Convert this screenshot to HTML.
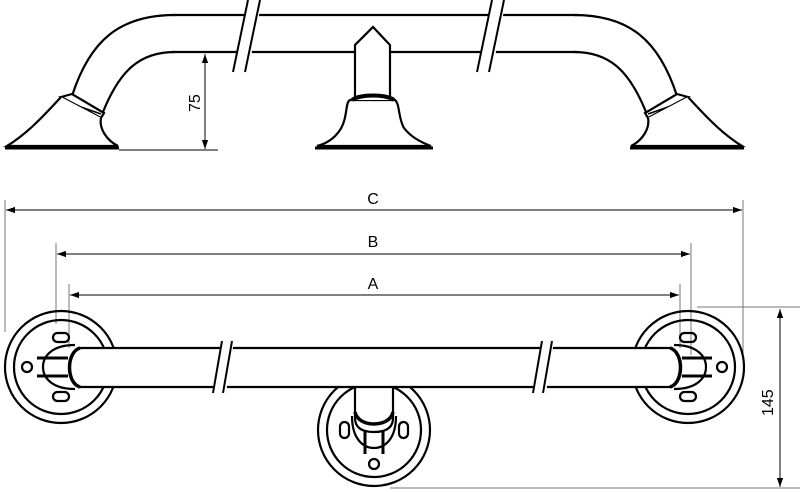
<!DOCTYPE html>
<html><head><meta charset="utf-8"><style>html,body{margin:0;padding:0;background:#fff}svg{display:block}</style></head>
<body>
<svg width="800" height="492" viewBox="0 0 800 492" xmlns="http://www.w3.org/2000/svg" font-family="Liberation Sans, sans-serif">
<defs>
<marker id="ar" viewBox="0 0 10 10" refX="10" refY="5" markerWidth="9" markerHeight="9" orient="auto-start-reverse" markerUnits="userSpaceOnUse"><path d="M0,1.5 L10,5 L0,8.5z" fill="#000"/></marker>
<g id="endTop" fill="none" stroke="#000" stroke-width="2.2">
  <path d="M175,15 C120,15 90,40 72,96" />
  <path d="M175,52 C140,52 120,70 103,112" />
  <path d="M61,97 L72,94 L104,113 L101,118 Z" fill="#fff"/>
  <line x1="64" y1="101" x2="101" y2="114" stroke-width="1.5"/>
  <path d="M61,97 C40,120 25,135 7,146 L118,146 C106,140 99,128 101,118" fill="#fff"/>
  <line x1="5" y1="148" x2="119" y2="148" stroke-width="3"/>
</g>
<g id="rosette" fill="none" stroke="#000" stroke-width="2.2">
  <circle cx="0" cy="0" r="56"/>
  <circle cx="0" cy="0" r="47"/>
  <rect x="-8" y="-34" width="16" height="9" rx="4.5"/>
  <rect x="-8" y="25" width="16" height="9" rx="4.5"/>
  <circle cx="-34" cy="0" r="5"/>
  <path d="M14,-22 C-10,-22 -18,-10 -18,0 C-18,10 -10,22 14,22"/>
  <path d="M-24,-9 L14,-9 M-24,9 L14,9" stroke-width="3"/>
</g>
</defs>

<g fill="none" stroke="#000" stroke-width="2.2">
  <line x1="172" y1="15" x2="578" y2="15"/>
  <line x1="172" y1="52" x2="578" y2="52"/>
</g>
<use href="#endTop"/>
<use href="#endTop" transform="translate(749,0) scale(-1,1)"/>
<polygon points="234,72 248,72 262,0 248,0" fill="#fff"/>
<line x1="233" y1="72" x2="248" y2="0" stroke="#000" stroke-width="2"/>
<line x1="245" y1="72" x2="260" y2="0" stroke="#000" stroke-width="2"/>
<polygon points="478,72 492,72 506,0 492,0" fill="#fff"/>
<line x1="477" y1="72" x2="492" y2="0" stroke="#000" stroke-width="2"/>
<line x1="489" y1="72" x2="504" y2="0" stroke="#000" stroke-width="2"/>
<g fill="#fff" stroke="#000" stroke-width="2.2">
  <path d="M355,97 L355,45 L373,27 L390,45 L390,97 Z"/>
  <path d="M350,100 C345,102 348,118 340,130 C334,139 325,144 317,146 L431,146 C420,142 410,136 404,128 C398,118 400,104 395,100 Z"/>
  <path d="M352,100 C360,94 386,94 394,100" stroke-width="4"/>
  <line x1="315" y1="148" x2="433" y2="148" stroke-width="3"/>
</g>
<line x1="119" y1="150" x2="218" y2="150" stroke="#000" stroke-width="1"/>
<line x1="205" y1="54" x2="205" y2="149" stroke="#000" stroke-width="1" marker-start="url(#ar)" marker-end="url(#ar)"/>
<text x="0" y="0" font-size="16" transform="translate(200,112) rotate(-90)">75</text>

<g stroke="#777" stroke-width="1">
  <line x1="5" y1="200" x2="5" y2="332"/>
  <line x1="743" y1="200" x2="743" y2="355"/>
  <line x1="56" y1="243" x2="56" y2="324"/>
  <line x1="691" y1="243" x2="691" y2="355"/>
  <line x1="69" y1="284" x2="69" y2="357"/>
  <line x1="680" y1="284" x2="680" y2="357"/>
  <line x1="697" y1="307" x2="800" y2="307"/>
  <line x1="390" y1="488" x2="800" y2="488"/>
</g>
<g stroke="#000" stroke-width="1">
  <line x1="6" y1="210" x2="742" y2="210" marker-start="url(#ar)" marker-end="url(#ar)"/>
  <line x1="57" y1="254" x2="690" y2="254" marker-start="url(#ar)" marker-end="url(#ar)"/>
  <line x1="70" y1="295" x2="679" y2="295" marker-start="url(#ar)" marker-end="url(#ar)"/>
  <line x1="780" y1="309" x2="780" y2="487" marker-start="url(#ar)" marker-end="url(#ar)"/>
</g>
<text x="373" y="204" font-size="16" text-anchor="middle">C</text>
<text x="373" y="247" font-size="16" text-anchor="middle">B</text>
<text x="373" y="289" font-size="16" text-anchor="middle">A</text>
<text x="0" y="0" font-size="16" transform="translate(773,416) rotate(-90)">145</text>

<use href="#rosette" transform="translate(61,367)"/>
<use href="#rosette" transform="translate(688,367) scale(-1,1)"/>
<use href="#rosette" transform="translate(374,430) rotate(-90)"/>
<rect x="355" y="389" width="38" height="35" fill="#fff" stroke="none"/>
<path d="M355,388 L355,418 C355,428 362,432 374,432 C386,432 393,428 393,418 L393,388" fill="#fff" stroke="#000" stroke-width="2.2"/>
<path d="M355,412 C358,428 390,428 393,412" fill="none" stroke="#000" stroke-width="3.5"/>
<rect x="68" y="348" width="614" height="39" fill="#fff" stroke="none"/>
<line x1="78" y1="348" x2="672" y2="348" stroke="#000" stroke-width="2.2"/>
<line x1="78" y1="387" x2="672" y2="387" stroke="#000" stroke-width="2.2"/>
<path d="M80,348 C66,352 66,383 80,387" fill="none" stroke="#000" stroke-width="3.5"/>
<path d="M670,348 C684,352 684,383 670,387" fill="none" stroke="#000" stroke-width="3.5"/>
<polygon points="214,393 226,393 234,341 222,341" fill="#fff"/>
<line x1="213" y1="393" x2="222" y2="341" stroke="#000" stroke-width="2"/>
<line x1="223" y1="393" x2="232" y2="341" stroke="#000" stroke-width="2"/>
<polygon points="534,393 546,393 554,341 542,341" fill="#fff"/>
<line x1="533" y1="393" x2="542" y2="341" stroke="#000" stroke-width="2"/>
<line x1="543" y1="393" x2="552" y2="341" stroke="#000" stroke-width="2"/>
</svg>
</body></html>
